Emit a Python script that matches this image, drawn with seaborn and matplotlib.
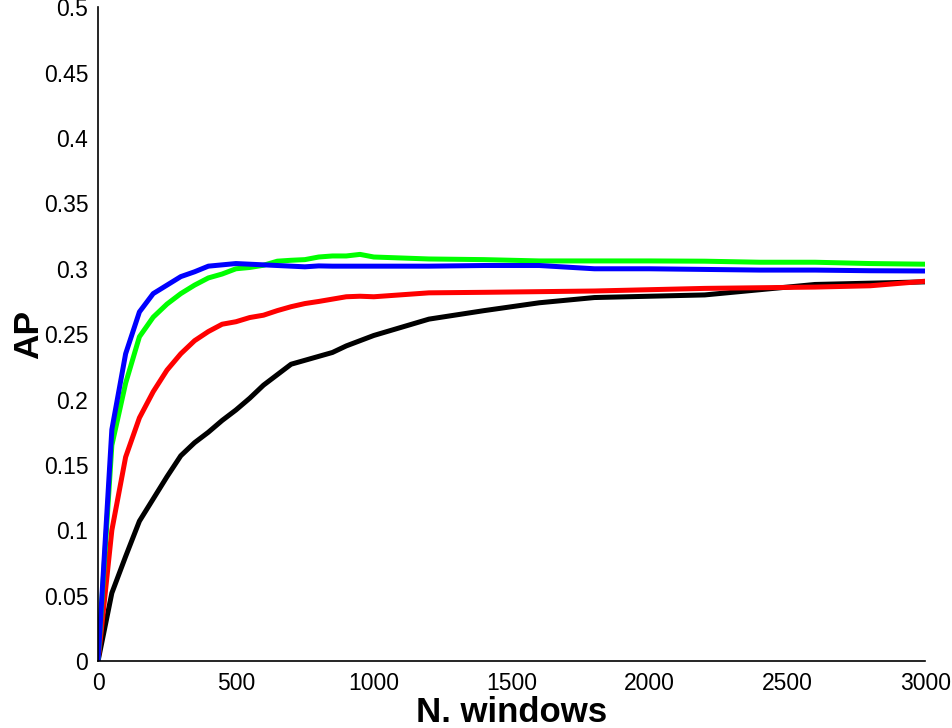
import numpy as np
import pandas as pd
import matplotlib
matplotlib.use('Agg')
import matplotlib.pyplot as plt
import seaborn as sns

# number of windows sampled
n_windows = [0, 50, 100, 150, 200, 250, 300, 350, 400, 450, 500, 550, 600,
             650, 700, 750, 800, 850, 900, 950, 1000, 1200, 1400, 1600,
             1800, 2000, 2200, 2400, 2600, 2800, 3000]

ap_black = [0, 0.052, 0.080, 0.107, 0.124, 0.141, 0.157, 0.167, 0.175,
            0.184, 0.192, 0.201, 0.211, 0.219, 0.227, 0.230, 0.233, 0.236,
            0.241, 0.245, 0.249, 0.2615, 0.268, 0.274, 0.278, 0.279, 0.280,
            0.284, 0.288, 0.289, 0.290]
ap_red = [0, 0.100, 0.156, 0.186, 0.206, 0.2225, 0.235, 0.245, 0.252,
          0.2576, 0.2595, 0.2627, 0.2645, 0.268, 0.271, 0.2734, 0.275,
          0.2768, 0.2786, 0.279, 0.2786, 0.2816, 0.282, 0.2825, 0.283,
          0.284, 0.285, 0.2855, 0.286, 0.287, 0.2905]
ap_green = [0, 0.165, 0.2125, 0.248, 0.263, 0.273, 0.281, 0.2875, 0.293,
            0.296, 0.300, 0.301, 0.3027, 0.3058, 0.3065, 0.307, 0.309,
            0.3098, 0.3098, 0.311, 0.309, 0.3075, 0.307, 0.306, 0.306,
            0.306, 0.3058, 0.305, 0.305, 0.304, 0.3035]
ap_blue = [0, 0.177, 0.235, 0.267, 0.281, 0.2875, 0.294, 0.2977, 0.302,
           0.303, 0.304, 0.3035, 0.303, 0.3025, 0.302, 0.3015, 0.3022,
           0.302, 0.302, 0.302, 0.302, 0.302, 0.3025, 0.3025, 0.300,
           0.300, 0.2995, 0.299, 0.299, 0.2985, 0.2983]

series = {'black': ap_black, 'red': ap_red, 'green': ap_green, 'blue': ap_blue}
colors = {'black': '#000000', 'red': '#ff0000', 'green': '#00ff00', 'blue': '#0000ff'}

df = pd.concat(
    [pd.DataFrame({'n': n_windows, 'ap': vals, 'method': name})
     for name, vals in series.items()],
    ignore_index=True,
)

sns.set_style('white')
plt.rcParams['font.family'] = ['Liberation Sans', 'DejaVu Sans']

fig = plt.figure(figsize=(9.52, 7.28), dpi=100)
ax = fig.add_axes([0.103, 0.092, 0.869, 0.898])

sns.lineplot(data=df, x='n', y='ap', hue='method', palette=colors,
             linewidth=3.6, sort=False, legend=False, ax=ax)

ax.set_xlim(0, 3000)
ax.set_ylim(0, 0.5)
ax.set_xticks(np.arange(0, 3001, 500))
ax.set_yticks(np.arange(0, 0.501, 0.05))
ax.set_xticklabels([str(v) for v in range(0, 3001, 500)])
ax.set_yticklabels(['0'] + [f'{v:g}' for v in np.round(np.arange(0.05, 0.501, 0.05), 2)])

ax.tick_params(axis='both', direction='in', length=6, width=1,
               labelsize=16.5, colors='black')
ax.tick_params(axis='x', pad=8)
ax.tick_params(axis='y', pad=7)
sns.despine(ax=ax)
for s in ['left', 'bottom']:
    ax.spines[s].set_color('black')
    ax.spines[s].set_linewidth(1.2)

ax.set_xlabel('N. windows', fontsize=25, fontweight='bold', labelpad=0.5,
              color='black')
ax.set_ylabel('AP', fontsize=25.5, fontweight='bold', labelpad=-1,
              color='black')

fig.savefig('out.png', dpi=100)
